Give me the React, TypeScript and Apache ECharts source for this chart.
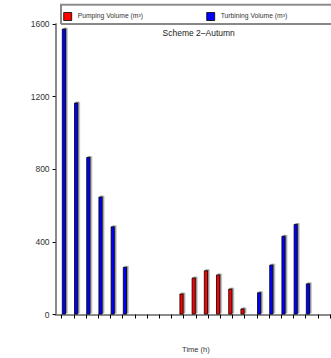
import React, { useEffect, useRef } from "react";
import * as echarts from "echarts";

// Hourly categories along the time axis
const hours = [
  "1", "2", "3", "4", "5", "6", "7", "8", "9", "10", "11", "12",
  "13", "14", "15", "16", "17", "18", "19", "20", "21", "22", "23",
];

// Pumped volume per hour (m³)
const pumping = [
  null, null, null, null, null, null, null, null, null, null,
  115, 203, 243, 220, 142, 33,
  null, null, null, null, null, null, null,
];

// Turbined volume per hour (m³)
const turbining = [
  1574, 1167, 867, 649, 485, 262,
  null, null, null, null, null, null, null, null, null, null,
  122, 274, 433, 498, 171,
  null, null,
];

const yTicks = [0, 400, 800, 1200, 1600];

const seriesNames = ["Pumping Volume (m³)", "Turbining Volume (m³)"];
const seriesColors = ["#ff0000", "#0000ff"];

const FONT = "Liberation Sans, Arial, Helvetica, sans-serif";

export default function App() {
  const ref = useRef<HTMLDivElement>(null);

  useEffect(() => {
    if (!ref.current) return;
    const chart = echarts.init(ref.current, undefined, { renderer: "svg" });

    const barStyle = (color: string) => ({
      color,
      borderColor: "#000",
      borderWidth: 0.8,
      shadowColor: "rgba(0,0,0,0.45)",
      shadowOffsetX: 1.5,
      shadowOffsetY: -1,
      shadowBlur: 1,
    });

    // Boxed legend across the top of the plot
    const legendX = [63.7, 206.7];
    const legendItems = seriesNames.flatMap((name, i) => [
      {
        type: "rect",
        shape: { x: legendX[i], y: 12.5, width: 8, height: 8 },
        style: { fill: seriesColors[i], stroke: "#000", lineWidth: 0.8 },
        z: 12,
      },
      {
        type: "text",
        x: legendX[i] + 14,
        y: 15.8,
        style: {
          text: name,
          fontSize: 6.75,
          fontFamily: FONT,
          fill: "#333",
          textAlign: "left",
          textVerticalAlign: "middle",
        },
        z: 12,
      },
    ]);

    chart.setOption({
      animation: false,
      backgroundColor: "#fff",
      textStyle: { fontFamily: FONT },
      grid: { left: 55.6, right: 345 - 336.2, top: 24, bottom: 358 - 317.3, containLabel: false },
      graphic: [
        {
          type: "rect",
          shape: { x: 61, y: 4.7, width: 290, height: 19.3 },
          style: { fill: "#fff", stroke: "#111", lineWidth: 1 },
          z: 10,
        },
        {
          type: "polyline",
          shape: { points: [[61, 24], [61, 4.7], [351, 4.7]] },
          style: { stroke: "#8a8a8a", lineWidth: 1.8, fill: null },
          z: 11,
        },
        ...legendItems,
        {
          type: "text",
          x: 198.7,
          y: 32.5,
          style: {
            text: "Scheme 2–Autumn",
            fontSize: 8.5,
            fontFamily: FONT,
            fill: "#222",
            textAlign: "center",
            textVerticalAlign: "middle",
          },
        },
      ],
      xAxis: {
        type: "category",
        data: hours,
        boundaryGap: true,
        name: "Time (h)",
        nameLocation: "middle",
        nameGap: 30.5,
        nameTextStyle: { fontSize: 7.5, color: "#333", fontFamily: FONT },
        axisLine: { lineStyle: { color: "#8a8a8a", width: 2 } },
        axisTick: {
          show: true,
          interval: 0,
          alignWithLabel: true,
          length: 4,
          lineStyle: { color: "#000", width: 1 },
        },
        axisLabel: { show: false, interval: 0 },
        splitLine: { show: false },
      },
      yAxis: {
        type: "value",
        min: yTicks[0],
        max: yTicks[yTicks.length - 1],
        interval: yTicks[1] - yTicks[0],
        axisLine: { show: true, lineStyle: { color: "#8a8a8a", width: 2 } },
        axisTick: { show: true, length: 3, lineStyle: { color: "#000", width: 1 } },
        axisLabel: {
          fontSize: 8.5,
          color: "#333",
          margin: 6,
          fontFamily: FONT,
          formatter: (v: number) => String(v),
        },
        splitLine: { show: false },
      },
      series: [
        {
          name: seriesNames[0],
          type: "bar",
          data: pumping,
          barWidth: 4,
          barGap: "10%",
          itemStyle: barStyle(seriesColors[0]),
        },
        {
          name: seriesNames[1],
          type: "bar",
          data: turbining,
          barWidth: 4,
          barGap: "10%",
          itemStyle: barStyle(seriesColors[1]),
        },
      ],
    });

    return () => chart.dispose();
  }, []);

  return (
    <div
      style={{
        position: "fixed",
        left: 0,
        top: 0,
        width: 331,
        height: 358,
        overflow: "hidden",
        background: "#fff",
      }}
    >
      <div ref={ref} style={{ width: 345, height: 358 }} />
    </div>
  );
}
